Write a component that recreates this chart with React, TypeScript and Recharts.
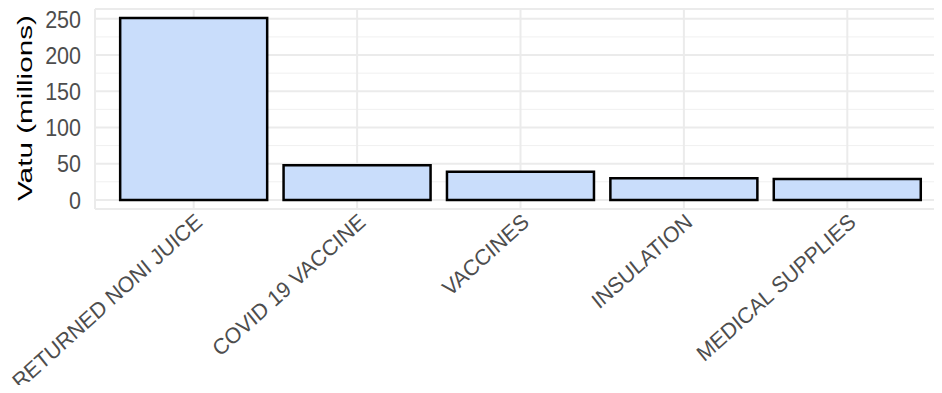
import { Bar, BarChart, CartesianGrid, XAxis, YAxis } from 'recharts';

const categories = [
  'RETURNED NONI JUICE',
  'COVID 19 VACCINE',
  'VACCINES',
  'INSULATION',
  'MEDICAL SUPPLIES',
];
const values = [251, 48, 39, 30, 29];
const yTicks = [0, 50, 100, 150, 200, 250];
const yMinorTicks = [25, 75, 125, 175, 225];

const data = categories.map((name, i) => ({ name, value: values[i] }));

const FONT = '"Liberation Sans", Arial, sans-serif';

// bottom of plot is 209, labels hang from just below it
function XTick({ x, payload }: any) {
  return (
    <g transform={`translate(${x},212) scale(1,1.06) rotate(-40.5)`}>
      <text
        x={0}
        y={0}
        dy="0.72em"
        textAnchor="end"
        fontSize={21}
        fontFamily={FONT}
        fill="#4d4d4d"
      >
        {payload.value}
      </text>
    </g>
  );
}

function YTick({ y, payload }: any) {
  return (
    <g transform={`translate(81,${y}) scale(1,1.1)`}>
      <text
        x={0}
        y={0}
        dy="0.37em"
        textAnchor="end"
        fontSize={21.5}
        fontFamily={FONT}
        fill="#4d4d4d"
      >
        {payload.value}
      </text>
    </g>
  );
}

function YTitle() {
  return (
    <g transform="translate(32,108) rotate(-90) scale(1.45,1)">
      <text x={0} y={0} textAnchor="middle" fontSize={20.5} fontFamily={FONT} fill="#000">
        Vatu (millions)
      </text>
    </g>
  );
}

export default function App() {
  return (
    <div style={{ margin: -8, width: 942, height: 393, background: '#fff' }}>
      <BarChart
        width={942}
        height={393}
        data={data}
        margin={{ top: 9, right: 0, bottom: 0, left: 0 }}
        barCategoryGap="5%"
      >
        <CartesianGrid
          horizontal
          vertical={false}
          horizontalValues={yMinorTicks}
          stroke="#f0f0f0"
          strokeWidth={1}
        />
        <CartesianGrid stroke="#ebebeb" strokeWidth={2} />
        <XAxis
          dataKey="name"
          type="category"
          height={184}
          interval={0}
          axisLine={false}
          tickLine={false}
          padding={{ left: 17, right: 13 }}
          tick={<XTick />}
        />
        <YAxis
          width={95}
          domain={[-12.55, 263.55]}
          ticks={yTicks}
          interval={0}
          axisLine={false}
          tickLine={false}
          tick={<YTick />}
          label={<YTitle />}
        />
        <Bar
          dataKey="value"
          fill="#c9ddfb"
          stroke="#000"
          strokeWidth={2.5}
          isAnimationActive={false}
        />
      </BarChart>
    </div>
  );
}
